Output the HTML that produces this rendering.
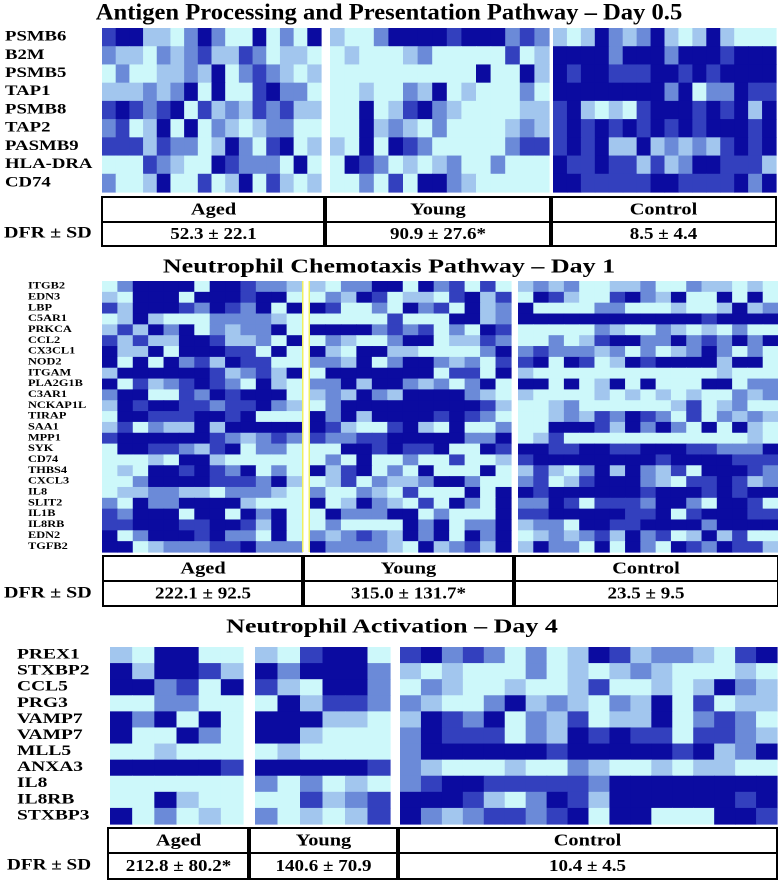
<!DOCTYPE html>
<html><head><meta charset="utf-8"><style>
html,body{margin:0;padding:0;background:#fff}
body{width:778px;height:883px;overflow:hidden;position:relative;font-family:"Liberation Serif",serif}
svg{position:absolute;left:0;top:0}
</style></head><body>
<svg id="fig" width="778" height="883" viewBox="0 0 778 883" xmlns="http://www.w3.org/2000/svg"></svg>
<script>
// level palette (0 = low, 4 = high)
const levels = ["#cdf8fa","#a2c6ee","#6b8ad8","#3340be","#0b0ba0"];

// Panel 1 data
const p1Genes = ["PSMB6","B2M","PSMB5","TAP1","PSMB8","TAP2","PASMB9","HLA-DRA","CD74"];
const p1Aged = ["3441102420040204","2110212311320110","0200112140232101","1112124040034220","3432340312132311","2301404021012200","3331322014203401","0003210043222040","2001400301403101"];
const p1Young = ["100244443444232","010001200000301","000000000040041","001002140100020","004013421000011","004121020000121","104043200000233","043201012002000","002030442100000"];
const p1Control = ["1014212410141000","4444244424443444","4344333443434444","4444444424022433","3410103444343414","3434343434344434","3434114121213434","4334331312443331","4433333443333424"];
const p1Groups = ["Aged","Young","Control"];
const p1Values = ["52.3 ± 22.1","90.9 ± 27.6*","8.5 ± 4.4"];

// Panel 2 data
const p2Genes = ["ITGB2","EDN3","LBP","C5AR1","PRKCA","CCL2","CX3CL1","NOD2","ITGAM","PLA2G1B","C3AR1","NCKAP1L","TIRAP","SAA1","MPP1","SYK","CD74","THBS4","CXCL3","IL8","SLIT2","IL1B","IL8RB","EDN2","TGFB2"];
const p2Aged = ["0244440443221","1044404443440","3144432432404","0141000222210","1314240212240","3131144311204","4114044433040","4040423143300","1444444312314","4031234320410","2440032434440","1434433233421","0443334434000","1302114144444","3444444321232","0443321340220","0001044100000","0104434324020","0024444333241","0112211022210","2042244441000","3244404404240","3344433443140","4024443422040","4401222334222"];
const p2Young = ["1022440423030","0214301103413","4300204230412","0000030004412","4444232302043","0210024401132","4104411000024","2214024421203","0444444403304","2241442120240","1214214444210","0244444444431","4241444434320","4310034104002","3223344444224","0044343340043","0204002003001","4134020400040","0130211244200","2002103000404","4014210304204","0422244020004","0200004240224","2123214240424","4222210412314"];
const p2Control = ["12120011200211010","04310034214004040","40000220001001412","44444444444434444","00000210021010200","00201344224232424","23222120201242020","34043014344441440","10000000000001000","44040140400044022","10000101010100212","00120000001301200","00121324320302121","00444314242040410","01300000000000010","44334433444332224","34444444434444333","13102414213044432","23013444210334312","43444444344434344","22430333244204430","33444443340344433","12204433444424444","01212314230141300","14220404204324331"];
const p2Values = ["222.1 ± 92.5","315.0 ± 131.7*","23.5 ± 9.5"];

// Panel 3 data
const p3Genes = ["PREX1","STXBP2","CCL5","PRG3","VAMP7","VAMP7","MLL5","ANXA3","IL8","IL8RB","STXBP3"];
const p3Aged = ["104400","414431","442304","002200","424040","400420","001000","444443","000000","004100","402010"];
const p3Young = ["103440","424442","310442","041332","444110","441000","010000","444443","202010","003123","201013"];
const p3Control = ["342320201431221034","101000201012100010","021001001300101421","210024121021403011","143240213011402320","243330214343303321","244444434444434124","210001002100101100","234433333244444444","444310243144444434","421233234044000443"];
const p3Values = ["212.8 ± 80.2*","140.6 ± 70.9","10.4 ± 4.5"];

const NS="http://www.w3.org/2000/svg";
const svg=document.getElementById('fig');
function mk(tag,attrs,parent){const e=document.createElementNS(NS,tag);for(const k in attrs)e.setAttribute(k,attrs[k]);(parent||svg).appendChild(e);return e;}

function heat(rows,x0,x1,y0,y1,name,grp){
  const g=mk('g',{},grp);
  
  
  const nr=rows.length,nc=rows[0].length;
  const cw=(x1-x0)/nc,ch=(y1-y0)/nr;
  for(let r=0;r<nr;r++)for(let c=0;c<nc;c++){
    const v=+rows[r][c];
    const rc=mk('rect',{x:x0+c*cw,y:y0+r*ch,width:cw+0.6,height:ch+0.6,fill:levels[v]},g);
    
    
  }
}
function txt(s,x,y,size,anchor,name,parent,sx){
  const t=mk('text',{x:0,y:0,transform:'translate('+x+','+y+') scale('+(sx||1)+',1)','font-size':size,'font-weight':'bold','font-family':'"Liberation Serif",serif','text-anchor':anchor||'start','dominant-baseline':'middle',fill:'#000'},parent);
  t.textContent=s;
  
  
  return t;
}
function labels(genes,x,y0,y1,size,grp,sx){
  const ch=(y1-y0)/genes.length;
  genes.forEach((gname,i)=>txt(gname,x,y0+ch*(i+0.5),size,'start','gene-label',grp,sx));
}
function table(cols,y0,ym,y1,vals,sizeH,grp){
  const g=mk('g',{},grp);
  
  
  const xs=cols;
  mk('rect',{x:xs[0],y:y0,width:xs[xs.length-1]-xs[0],height:y1-y0,fill:'#fff',stroke:'#000','stroke-width':2},g);
  mk('line',{x1:xs[0],y1:ym,x2:xs[xs.length-1],y2:ym,stroke:'#000','stroke-width':2},g);
  for(let i=1;i<xs.length-1;i++)mk('line',{x1:xs[i],y1:y0,x2:xs[i],y2:y1,stroke:'#000','stroke-width':4},g);
  for(let i=0;i<xs.length-1;i++){
    const cx=(xs[i]+xs[i+1])/2;
    txt(p1Groups[i],cx,(y0+ym)/2+1,sizeH,'middle','group-header',g,1.2);
    txt(vals[i],cx,(ym+y1)/2+1,sizeH,'middle','dfr-value',g,1.12);
  }
}
function panel(name){const g=mk('g',{});return g;}

// Panel 1
const g1=panel('antigen-panel');
txt("Antigen Processing and Presentation Pathway – Day 0.5",389,14,23,'middle','panel-title',g1,1.07);
heat(p1Aged,102,321,28,192,'heatmap-aged',g1);
heat(p1Young,330,549,28,192,'heatmap-young',g1);
heat(p1Control,553,776,28,192,'heatmap-control',g1);
labels(p1Genes,5,28,192,15,g1,1.25);
table([102,325,551,776],197,222,246,p1Values,17,g1);
txt("DFR ± SD",4,234,16,'start','dfr-label',g1,1.25);

// Panel 2
const g2=panel('chemotaxis-panel');
txt("Neutrophil Chemotaxis Pathway – Day 1",389,268,20,'middle','panel-title',g2,1.3);
heat(p2Aged,102,302,281,552,'heatmap-aged',g2);
heat(p2Young,310,511,281,552,'heatmap-young',g2);
mk('rect',{x:302,y:281,width:1.5,height:271,fill:'#f0f060'},g2);
mk('rect',{x:308.5,y:281,width:1.5,height:271,fill:'#f0f060'},g2);
heat(p2Control,518,778,281,552,'heatmap-control',g2);
labels(p2Genes,28,281,552,9.5,g2,1.3);
table([103,303,514,778],556,581,606,p2Values,17,g2);
txt("DFR ± SD",4,594,16,'start','dfr-label',g2,1.25);

// Panel 3
const g3=panel('activation-panel');
txt("Neutrophil Activation – Day 4",392,628,20,'middle','panel-title',g3,1.3);
heat(p3Aged,110,243,647,824,'heatmap-aged',g3);
heat(p3Young,255,390,647,824,'heatmap-young',g3);
heat(p3Control,400,777,647,824,'heatmap-control',g3);
labels(p3Genes,17,647,824,15,g3,1.3);
table([108,249,398,777],828,853,879,p3Values,17,g3);
txt("DFR ± SD",7,866,16,'start','dfr-label',g3,1.2);
</script>
</body></html>
